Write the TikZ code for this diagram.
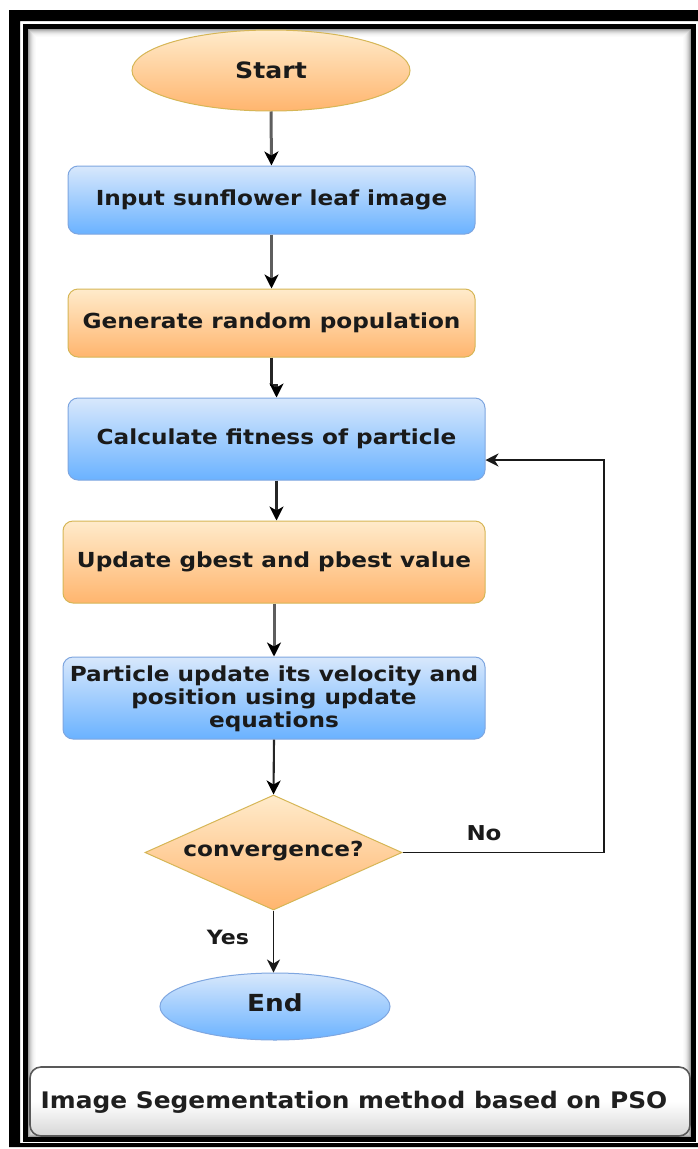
\documentclass[tikz,border=0pt]{standalone}
\usepackage{fontspec}
\setmainfont{DejaVu Sans}
\usepackage{graphicx}
\usetikzlibrary{shapes.geometric,arrows.meta}
\definecolor{orTop}{HTML}{FFEBCB}
\definecolor{orBot}{HTML}{FFB56E}
\definecolor{orLine}{HTML}{D6B656}
\definecolor{blTop}{HTML}{D8E8FC}
\definecolor{blBot}{HTML}{6AB2FF}
\definecolor{blLine}{HTML}{7EA6E0}
\definecolor{txt}{HTML}{1A1A1A}
\definecolor{arrgray}{HTML}{5E5E5E}
\newcommand{\wtext}[1]{\scalebox{1.12}[1]{#1}}
\begin{document}
\begin{tikzpicture}[x=1pt,y=-1pt,
  basefont/.style={font=\fontsize{20.7}{23}\selectfont\bfseries,text=txt},
  box/.style={rectangle,rounded corners=10pt,inner sep=0pt,line width=1pt,basefont},
  orangebox/.style={box,draw=orLine,top color=orTop,bottom color=orBot},
  bluebox/.style={box,draw=blLine,top color=blTop,bottom color=blBot},
  orangeell/.style={ellipse,inner sep=0pt,line width=1pt,draw=orLine,top color=orTop,bottom color=orBot,basefont},
  blueell/.style={ellipse,inner sep=0pt,line width=1pt,draw=blLine,top color=blTop,bottom color=blBot,basefont},
  decision/.style={diamond,inner sep=0pt,aspect=2.23,line width=1pt,draw=orLine,top color=orTop,bottom color=orBot},
  lbl/.style={basefont,inner sep=0pt},
  thickarr/.style={draw=arrgray,line width=3pt,-{Stealth[length=14pt,width=14pt,inset=4pt,fill=black,color=black]}},
  thinarr/.style={draw=black!85,line width=2.1pt,-{Stealth[length=14pt,width=14pt,inset=4pt,fill=black,color=black]}},
  looparr/.style={draw=black!90,line width=1.6pt,-{Stealth[length=13pt,width=13pt,inset=4pt]}},
  capbox/.style={rectangle,rounded corners=11pt,inner sep=0pt,line width=1.6pt,draw=black!65,top color=white,bottom color=black!16,middle color=white},
  captxt/.style={font=\fontsize{22.8}{26}\selectfont\bfseries,text=black!88,inner sep=0pt}
]
\useasboundingbox (0,0) rectangle (698,1149);
\fill[white] (0,0) rectangle (698,1149);
% frames
\fill[black,even odd rule] (9,10) rectangle (730,1147) (20,21) rectangle (705,1143);
\draw[line width=5pt] (25.5,26.5) rectangle (693,1139);
\foreach \i/\o in {1/0.38,2/0.28,3/0.2,4/0.14,5/0.09,6/0.055,7/0.03,8/0.015}{
  \draw[black,opacity=\o,line width=1pt] ({28+\i-0.5},{29+\i-0.5}) rectangle ({691-\i+0.5},{1137-\i+0.5});
}
% nodes
\node[orangeell,minimum width=278pt,minimum height=81pt] (start) at (271,70.5) {};
\node[lbl,font=\fontsize{22.5}{26}\selectfont\bfseries] (starttxt) at (271,70) {\wtext{Start}};
\node[bluebox,minimum width=407pt,minimum height=68pt] (inp) at (271.5,200) {\wtext{Input sunflower leaf image}};
\node[orangebox,minimum width=407pt,minimum height=68pt] (gen) at (271.5,323) {\wtext{Generate random population}};
\node[bluebox,minimum width=417pt,minimum height=82pt] (calc) at (276.5,439) {\wtext{Calculate fitness of particle}};
\node[orangebox,minimum width=422pt,minimum height=82pt] (upd) at (274,562) {\wtext{Update gbest and pbest value}};
\node[bluebox,minimum width=422pt,minimum height=82pt] (part) at (274,698) {};
\node[lbl] (parttxt) at (274,700) {\wtext{\begin{tabular}{@{}c@{}}Particle update its velocity and\\position using update\\equations\end{tabular}}};
\node[decision,minimum width=257pt,minimum height=115pt] (conv) at (273.5,852.5) {};
\node[lbl] (convtxt) at (273.5,851) {\wtext{convergence?}};
\node[blueell,minimum width=230pt,minimum height=67pt] (end) at (275,1006.5) {};
\node[lbl,font=\fontsize{23.5}{27}\selectfont\bfseries] (endtxt) at (275,1003) {\wtext{End}};
\node[lbl,font=\fontsize{20.5}{24}\selectfont\bfseries] (no) at (484,833) {\wtext{No}};
\node[lbl,font=\fontsize{19.7}{24}\selectfont\bfseries] (yes) at (228,937) {\wtext{Yes}};
% caption
\node[capbox,minimum width=660pt,minimum height=69pt] (cap) at (360,1101.5) {};
\node[captxt] (captext) at (354,1102) {\scalebox{1.09}[1]{Image Segementation method based on PSO}};
% connectors
\coordinate (j1) at (276.5,385);
\coordinate (lp1) at (604,852.5);
\coordinate (lp2) at (604,460);
\draw[thickarr] (start.south) -- (inp.north);
\draw[thickarr] (inp.south) -- (gen.north);
\draw[thinarr] (gen.south) |- (j1) -- (calc.north);
\draw[thinarr] (calc.south) -- (calc.south |- upd.north);
\draw[thickarr] (upd.south) -- (part.north);
\draw[thinarr] (part.south) -- (conv.north);
\draw[looparr] (conv.east) -- (lp1) -- (lp2) -- (lp2 -| calc.east);
\draw[looparr] (conv.south) -- (conv.south |- end.north);
\end{tikzpicture}
\end{document}
